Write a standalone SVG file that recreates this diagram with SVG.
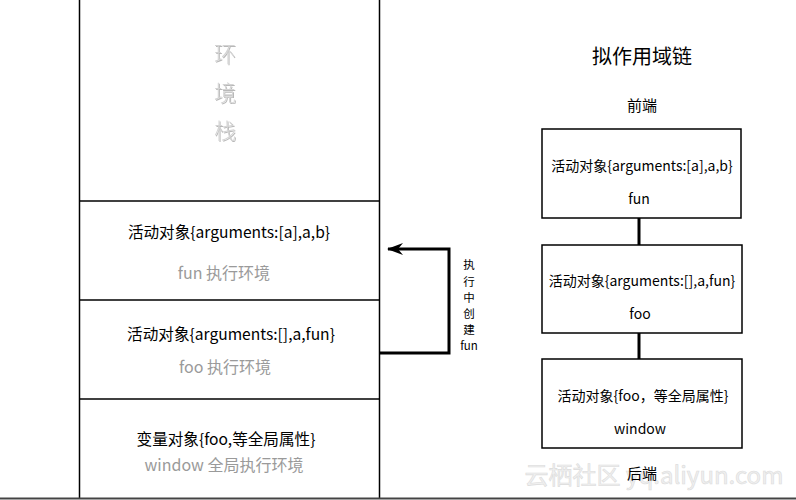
<svg xmlns="http://www.w3.org/2000/svg" width="796" height="500" viewBox="0 0 796 500">
<defs>
<style>
.t{font-family:"Noto Sans CJK SC","Noto Sans",sans-serif;text-anchor:middle;dominant-baseline:central;}
.blk{fill:#000;font-size:14px;}
.lblk{fill:#000;font-size:15.6px;}
.gry{fill:#9a9a9a;font-size:16px;}
.box{fill:#fff;stroke:#000;stroke-width:1.5;}
.ln{stroke:#000;stroke-width:1.5;fill:none;}
</style>
<filter id="sh" x="-20%" y="-20%" width="140%" height="140%">
<feDropShadow dx="1" dy="1" stdDeviation="0.4" flood-color="#888" flood-opacity="0.6"/>
</filter>
<marker id="ah" viewBox="0 0 16 12" refX="15" refY="6" markerWidth="16" markerHeight="12" markerUnits="userSpaceOnUse" orient="auto">
<path d="M0,0 L16,6 L0,12 L5,6 Z" fill="#000"/>
</marker>
</defs>
<rect width="796" height="500" fill="#fff"/>
<g id="watermark">
<text x="654" y="473" font-family="'Noto Sans CJK SC','Noto Sans',sans-serif" font-size="24" fill="#f0f0f0" stroke="#dcdcdc" stroke-width="0.6" text-anchor="middle" dominant-baseline="central">云栖社区 yq.aliyun.com</text>
</g>
<g id="stack">
<line class="ln" x1="79.5" y1="0" x2="79.5" y2="499"/>
<line class="ln" x1="379.5" y1="0" x2="379.5" y2="499"/>
<line class="ln" x1="79.5" y1="201" x2="379.5" y2="201"/>
<line class="ln" x1="79.5" y1="300" x2="379.5" y2="300"/>
<line class="ln" x1="79.5" y1="399" x2="379.5" y2="399"/>
<line x1="0" y1="498.5" x2="796" y2="498.5" stroke="#444" stroke-width="2"/>
</g>
<g id="stack-title" filter="url(#sh)" font-weight="300">
<text class="t" x="225" y="52" font-size="22" fill="#d4d4d4">环</text>
<text class="t" x="225" y="91" font-size="22" fill="#d4d4d4">境</text>
<text class="t" x="225" y="129" font-size="22" fill="#d4d4d4">栈</text>
</g>
<g id="fun-env">
<text class="t lblk" x="229" y="231">活动对象{arguments:[a],a,b}</text>
<text class="t gry" x="224" y="272">fun 执行环境</text>
</g>
<g id="foo-env">
<text class="t lblk" x="231" y="333">活动对象{arguments:[],a,fun}</text>
<text class="t gry" x="225" y="366">foo 执行环境</text>
</g>
<g id="global-env">
<text class="t lblk" x="226" y="438">变量对象{foo,等全局属性}</text>
<text class="t gry" x="224" y="464">window 全局执行环境</text>
</g>
<g id="connectors">
<polyline points="380,353 449,353 449,249 388,249" fill="none" stroke="#000" stroke-width="3" marker-end="url(#ah)"/>
<line x1="639" y1="218" x2="639" y2="245" stroke="#000" stroke-width="3"/>
<line x1="639" y1="333" x2="639" y2="359" stroke="#000" stroke-width="3"/>
</g>
<g id="arrow-label" font-size="11.5">
<text class="t" x="469" y="264">执</text>
<text class="t" x="469" y="281">行</text>
<text class="t" x="469" y="297">中</text>
<text class="t" x="469" y="313">创</text>
<text class="t" x="469" y="329">建</text>
<text class="t" x="469" y="345">fun</text>
</g>
<g id="scope-title">
<text class="t" x="642" y="55" font-size="20">拟作用域链</text>
<text class="t" x="642" y="104" font-size="15">前端</text>
<text class="t" x="642" y="472" font-size="15">后端</text>
</g>
<g id="scope-fun">
<rect class="box" x="542" y="129" width="199" height="89"/>
<text class="t blk" x="642" y="165">活动对象{arguments:[a],a,b}</text>
<text class="t blk" x="639" y="198">fun</text>
</g>
<g id="scope-foo">
<rect class="box" x="542" y="245" width="200" height="88"/>
<text class="t blk" x="642" y="280">活动对象{arguments:[],a,fun}</text>
<text class="t blk" x="640" y="313">foo</text>
</g>
<g id="scope-window">
<rect class="box" x="542" y="359" width="200" height="89"/>
<text class="t blk" x="643" y="395">活动对象{foo，等全局属性}</text>
<text class="t blk" x="640" y="428">window</text>
</g>
</svg>
